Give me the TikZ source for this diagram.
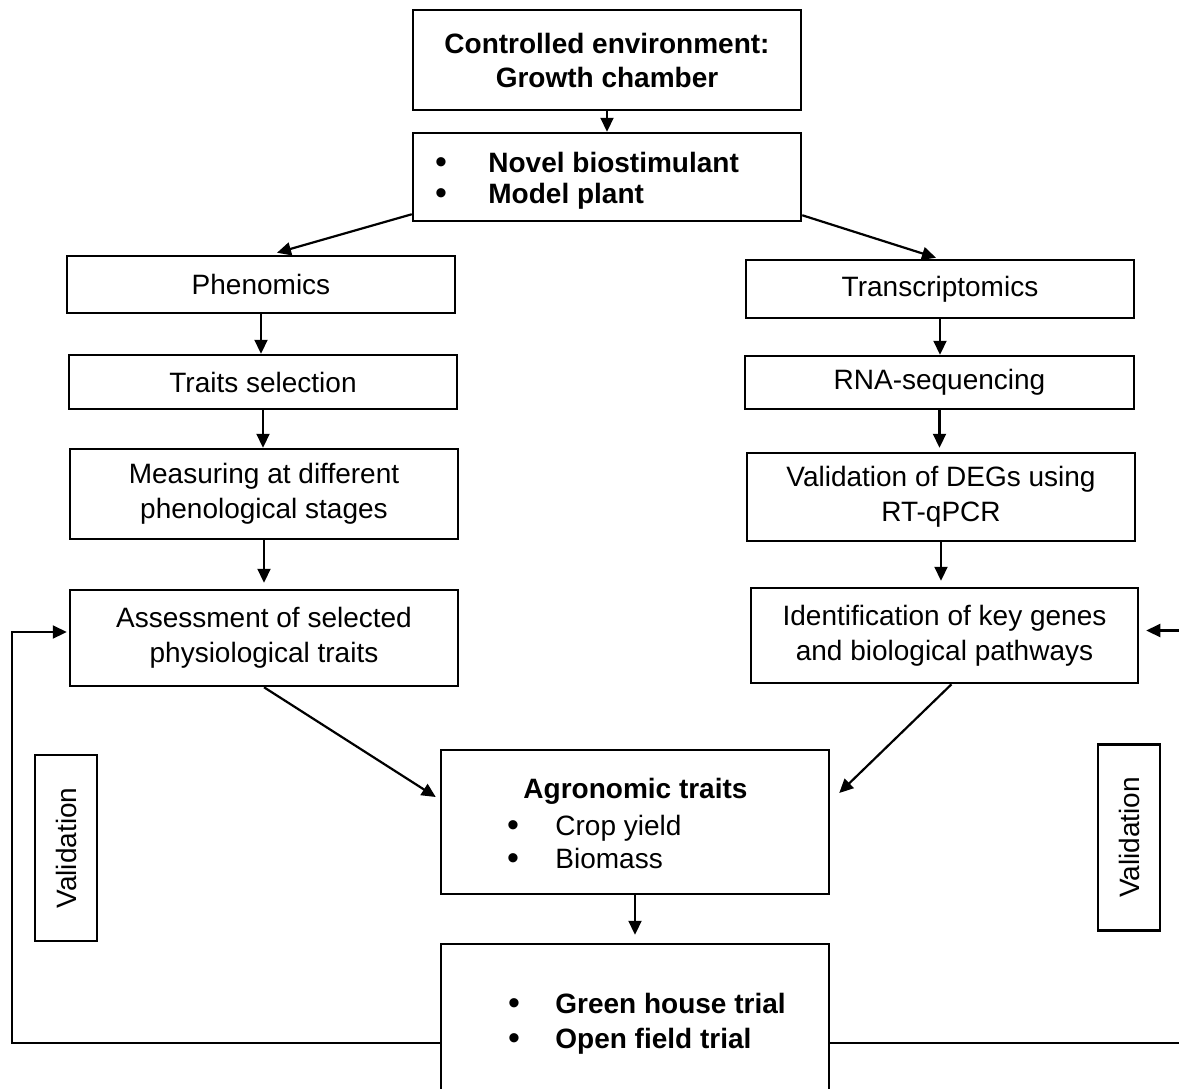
\documentclass[tikz,border=0pt]{standalone}
\usepackage{fontspec}
\setmainfont{Liberation Sans}
\usetikzlibrary{arrows.meta,calc}
\begin{document}
\begin{tikzpicture}[x=0.5pt,y=-0.5pt,
  box/.style={draw,line width=1.25pt,inner sep=0pt,align=center,font=\fontsize{14}{17.5}\selectfont},
  boxb/.style={box,font=\fontsize{14}{18}\selectfont\bfseries},
  wide/.style={minimum width=194pt},
  arr/.style={line width=1.1pt,-{Triangle[length=7pt,width=6.5pt]}},
  txt/.style={inner sep=0pt,anchor=base west,font=\fontsize{14}{17.5}\selectfont},
  txtb/.style={txt,font=\fontsize{14}{17.5}\selectfont\bfseries},
  bul/.style={inner sep=0pt,anchor=base,font=\fontsize{17}{17.5}\selectfont},
  vbox/.style={box,rotate=90,minimum width=93pt,minimum height=31pt}
]
\useasboundingbox (0,0) rectangle (1179,1088);
\clip (0,0) rectangle (1179,1088);

% boxes
\node[boxb,wide,minimum height=50pt] (top) at (607,60) {Controlled environment:\\[-1pt]Growth chamber};
\node[box,wide,minimum height=44pt] (b2) at (607,177) {};
\node[bul] (b2d1) at (441,173) {•};
\node[txtb] (b2t1) at (488,172) {Novel biostimulant};
\node[bul] (b2d2) at (441,204) {•};
\node[txtb] (b2t2) at (488,203) {Model plant};

\node[box,wide,minimum height=28.5pt] (phen) at (261,284.5) {Phenomics};
\node[box,wide,minimum height=29pt] (trans) at (940,289) {Transcriptomics};
\node[box,wide,minimum height=27pt] (traits) at (263,382) {Traits selection};
\node[box,minimum width=194.5pt,minimum height=26.5pt] (rna) at (939.5,382.5) {RNA-sequencing};
\node[box,wide,minimum height=45pt] (meas) at (264,494) {Measuring at different\\phenological stages};
\node[box,wide,minimum height=44pt] (deg) at (941,497) {Validation of DEGs using\\RT-qPCR};
\node[box,wide,minimum height=48pt] (assess) at (264,638) {Assessment of selected\\physiological traits};
\node[box,minimum width=193.5pt,minimum height=47.5pt] (ident) at (944.5,635.5) {Identification of key genes\\and biological pathways};

\node[box,wide,minimum height=72pt] (agro) at (635,822) {};
\node[inner sep=0pt,anchor=base,font=\fontsize{14}{17.5}\selectfont\bfseries] (agrot) at (635.5,798) {Agronomic traits};
\node[bul] (agd1) at (513,836) {•};
\node[txt] (agt1) at (555,835) {Crop yield};
\node[bul] (agd2) at (513,869) {•};
\node[txt] (agt2) at (555,868) {Biomass};

\node[box,wide,minimum height=78pt] (green) at (635,1022) {};
\node[bul] (grd1) at (514,1014) {•};
\node[txtb] (grt1) at (555,1013) {Green house trial};
\node[bul] (grd2) at (514,1049) {•};
\node[txtb] (grt2) at (555,1048) {Open field trial};

\node[vbox] (vl) at (66,848) {Validation};
\node[vbox] (vr) at (1129,837.5) {Validation};

% connectors
\draw[arr] (top) -- (b2);
\draw[arr] ($(b2.south west)+(0,-8)$) -- ($(phen.north)+(16,-2)$);
\draw[arr] ($(b2.south east)+(0,-7)$) -- ($(trans.north)+(-4,-1)$);

\draw[arr] (phen.south) -- (phen.south |- traits.north);
\draw[arr] (traits.south) -- (traits.south |- meas.north);
\draw[arr,shorten >=3pt] (meas.south) -- (meas.south |- assess.north);

\draw[arr] (trans.south) -- (trans.south |- rna.north);
\draw[arr,shorten >=2pt] (rna.south) -- (rna.south |- deg.north);
\draw[arr,shorten >=3pt] (deg.south) -- (deg.south |- ident.north);

\draw[arr] (assess.south) -- ($(agro.west)+(-4,-25)$);
\draw[arr] ($(ident.south)+(7,0)$) -- ($(agro.east)+(9,-29)$);

\draw[arr,shorten >=4pt] (agro.south) -- (agro.south |- green.north);

\coordinate (lc) at (12,1043);
\coordinate (rc) at (1190,1043);
\draw[arr] ($(green.west)+(0,21)$) -- (lc) |- ($(assess.west)+(-2,-6)$);
\draw[arr] ($(green.east)+(0,21)$) -- (rc) |- ($(ident.east)+(7,-5)$);
\end{tikzpicture}
\end{document}
